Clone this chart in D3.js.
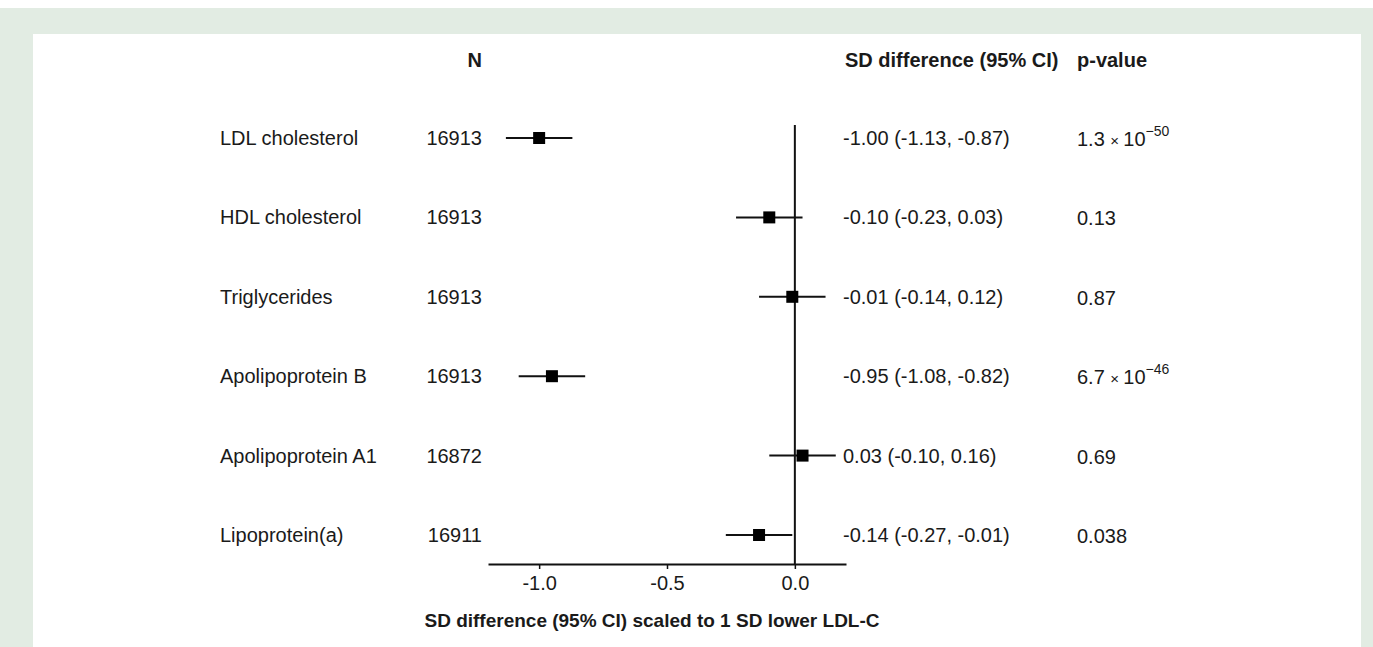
<!DOCTYPE html>
<html>
<head>
<meta charset="utf-8">
<script src="https://cdn.jsdelivr.net/npm/d3@7"></script>
<style>
  body { margin: 0; background: #fff; }
  text { font-family: "Liberation Sans", Arial, sans-serif; fill: #1a1a1a; }
</style>
</head>
<body>
<div id="chart"></div>
<script>
// data
var traits = ['LDL cholesterol', 'HDL cholesterol', 'Triglycerides', 'Apolipoprotein B', 'Apolipoprotein A1', 'Lipoprotein(a)']
var nValues = [16913, 16913, 16913, 16913, 16872, 16911]
var estimates = [-1.00, -0.10, -0.01, -0.95, 0.03, -0.14]
var lowerCI = [-1.13, -0.23, -0.14, -1.08, -0.10, -0.27]
var upperCI = [-0.87, 0.03, 0.12, -0.82, 0.16, -0.01]
var pMantissa = ['1.3', '0.13', '0.87', '6.7', '0.69', '0.038']
var pExponent = ['-50', null, null, '-46', null, null]
var xTicks = [-1.0, -0.5, 0.0]

const svgWidth = 1373
const svgHeight = 647

// plain hyphen for minus, as in the figure
var locale = d3.formatLocale({ decimal: '.', thousands: ',', grouping: [3], currency: ['', ''], minus: '-' })
var f2 = locale.format('.2f')
var f1 = locale.format('.1f')

var svg = d3.select('#chart').append('svg')
    .attr('width', svgWidth)
    .attr('height', svgHeight)

// green frame + white panel
svg.append('rect')
    .attr('x', 0).attr('y', 8).attr('width', svgWidth).attr('height', svgHeight - 8)
    .attr('fill', '#e2ece3')
svg.append('rect')
    .attr('x', 33).attr('y', 34).attr('width', 1328).attr('height', svgHeight - 34)
    .attr('fill', '#ffffff')

//scales
const x = d3.scaleLinear().domain([-1.2, 0.2]).range([488, 846])
const y = d3.scalePoint().domain(traits).range([138, 535])

const axisY = 564

// axis
const xAxis = d3.axisBottom(x).tickValues(xTicks).tickFormat(f1).tickSize(5).tickSizeOuter(0)
const xAxisGroup = svg.append('g')
    .attr('transform', `translate(0, ${axisY})`)
    .call(xAxis)
xAxisGroup.select('.domain').attr('stroke', '#111').attr('stroke-width', 2)
xAxisGroup.selectAll('.tick line').attr('stroke', '#111').attr('stroke-width', 1.5)
xAxisGroup.selectAll('.tick text')
    .attr('y', 12)
    .attr('font-size', 20)
    .attr('font-family', '"Liberation Sans", Arial, sans-serif')
    .attr('fill', '#1a1a1a')

// null line
svg.append('line')
    .attr('x1', x(0)).attr('x2', x(0))
    .attr('y1', 125).attr('y2', axisY)
    .attr('stroke', '#111').attr('stroke-width', 2)

// axis title
svg.append('text')
    .attr('x', 652).attr('y', 627)
    .attr('text-anchor', 'middle')
    .attr('font-size', 19).attr('font-weight', 'bold')
    .text('SD difference (95% CI) scaled to 1 SD lower LDL-C')

// headers
svg.append('text').attr('x', 482).attr('y', 67).attr('text-anchor', 'end')
    .attr('font-size', 20).attr('font-weight', 'bold').text('N')
svg.append('text').attr('x', 845).attr('y', 67)
    .attr('font-size', 20).attr('font-weight', 'bold').text('SD difference (95% CI)')
svg.append('text').attr('x', 1077).attr('y', 67)
    .attr('font-size', 20).attr('font-weight', 'bold').text('p-value')

var rows = svg.selectAll('g.row')
    .data(traits)
    .enter()
    .append('g')
    .attr('class', 'row')
    .attr('transform', d => `translate(0, ${y(d)})`)

rows.append('text')
    .attr('x', 220).attr('y', 7)
    .attr('font-size', 20)
    .text(d => d)

rows.append('text')
    .attr('x', 482).attr('y', 7)
    .attr('text-anchor', 'end')
    .attr('font-size', 20)
    .text((d, i) => nValues[i])

// CI lines
rows.append('line')
    .attr('x1', (d, i) => x(lowerCI[i]))
    .attr('x2', (d, i) => x(upperCI[i]))
    .attr('y1', 0).attr('y2', 0)
    .attr('stroke', '#111').attr('stroke-width', 2)

// squares
rows.append('rect')
    .attr('x', (d, i) => x(estimates[i]) - 6)
    .attr('y', -6)
    .attr('width', 12).attr('height', 12)
    .attr('fill', '#000')

rows.append('text')
    .attr('x', 843).attr('y', 7)
    .attr('font-size', 20)
    .text((d, i) => `${f2(estimates[i])} (${f2(lowerCI[i])}, ${f2(upperCI[i])})`)

rows.each(function (d, i) {
    var t = d3.select(this).append('text')
        .attr('x', 1077).attr('y', 8)
        .attr('font-size', 20)
    if (pExponent[i]) {
        t.append('tspan').text(pMantissa[i] + '  ')
        t.append('tspan').attr('font-size', 15).text('\u00d7 ')
        t.append('tspan').text('10')
        t.append('tspan').attr('dy', -10).attr('font-size', 14).text(pExponent[i].replace('-', '\u2212'))
    } else {
        t.text(pMantissa[i])
    }
})
</script>
</body>
</html>
